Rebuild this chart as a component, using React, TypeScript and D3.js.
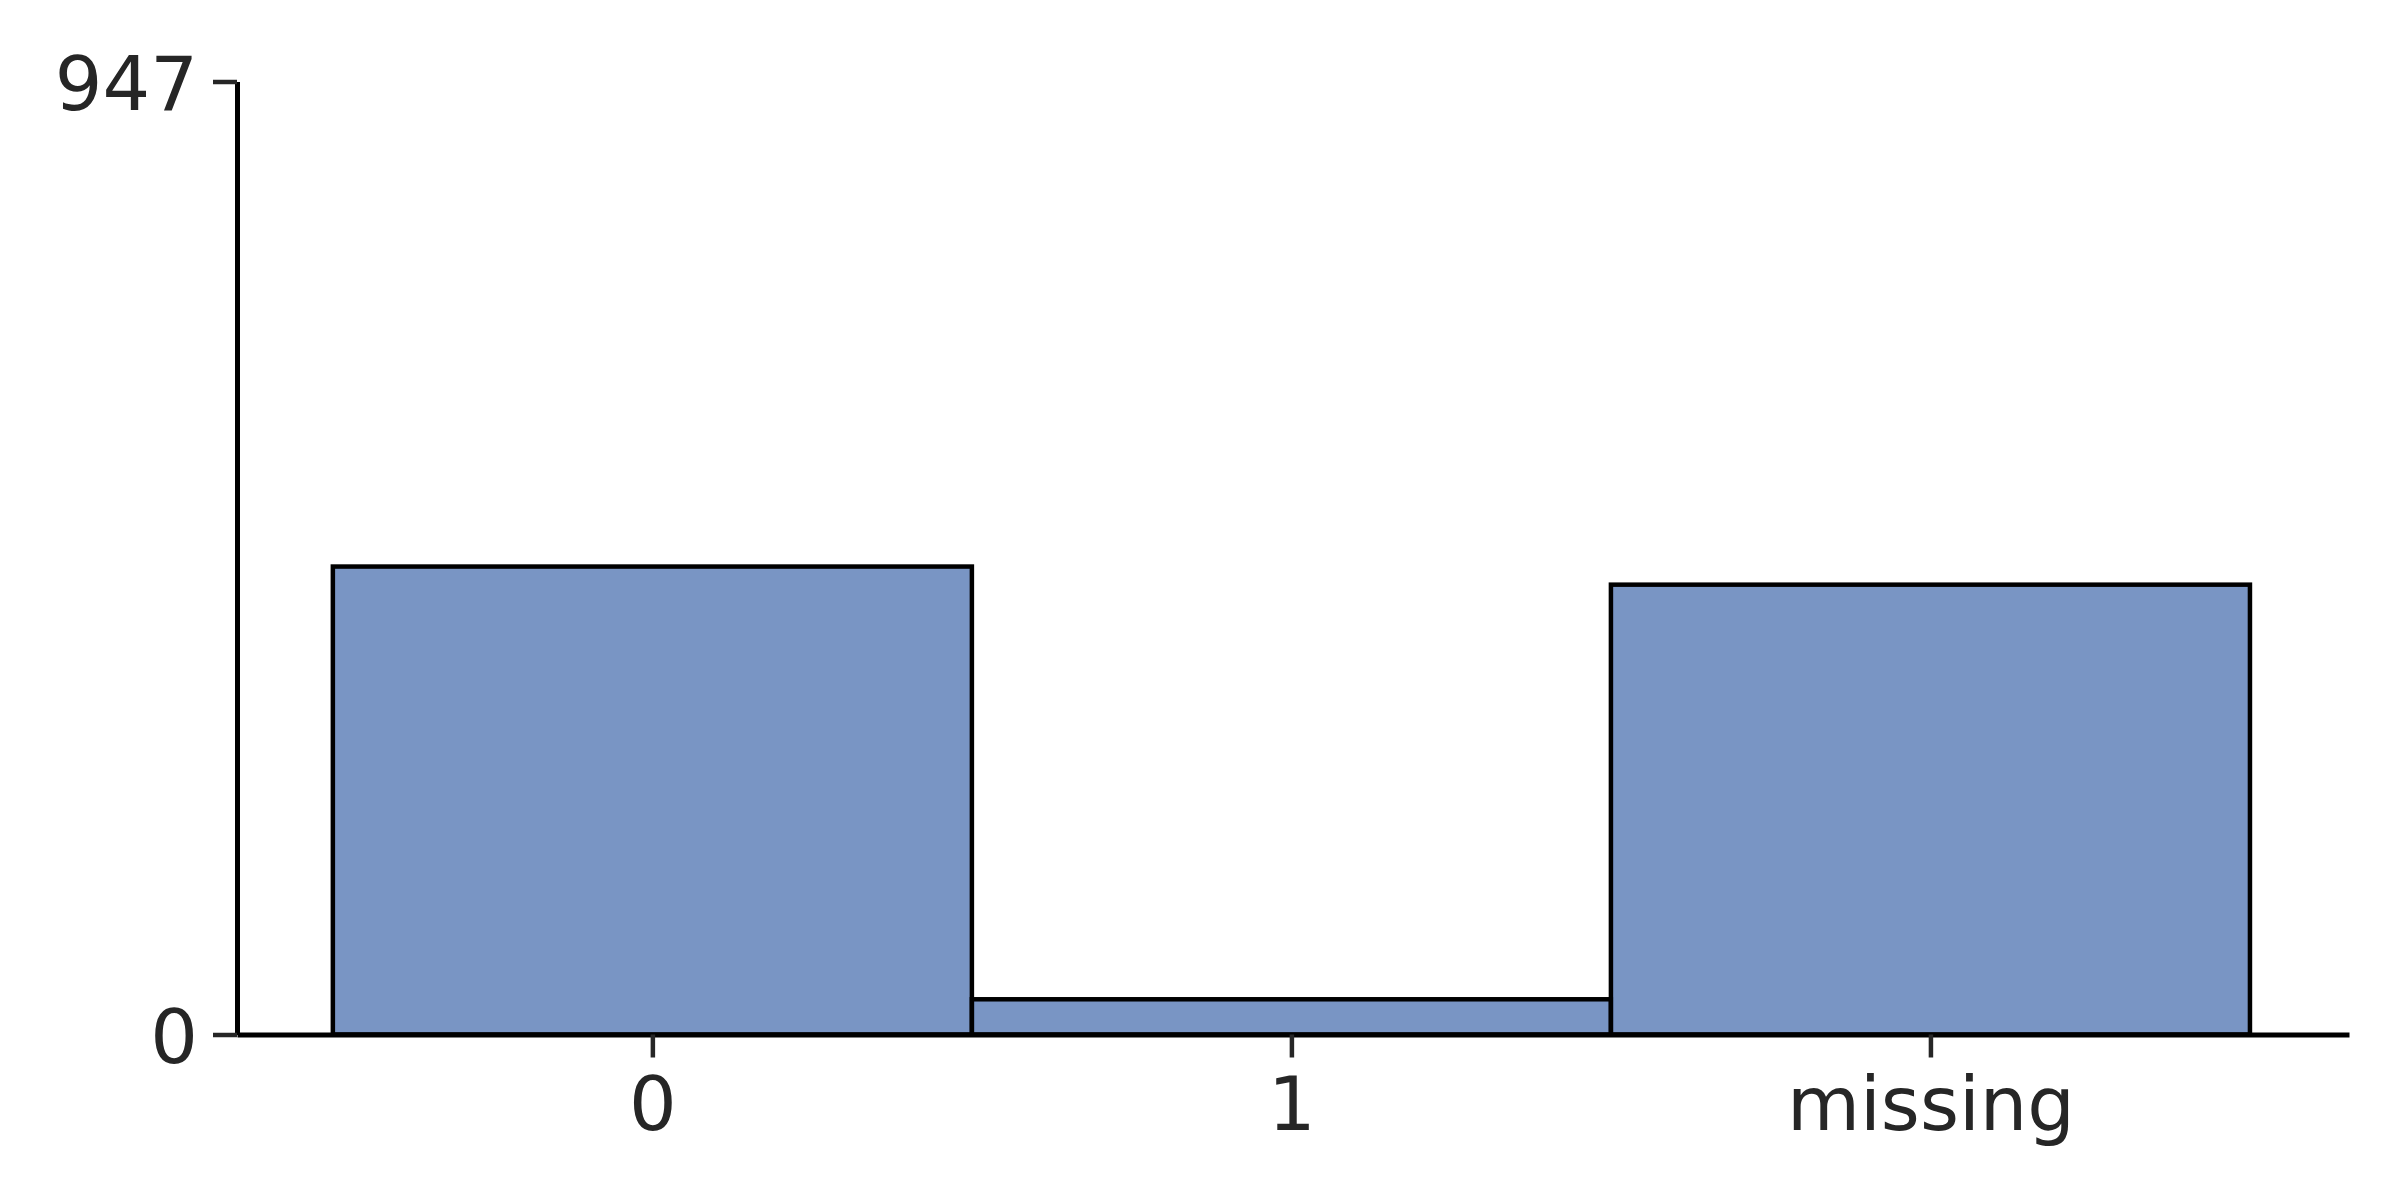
import React, { useEffect, useRef } from 'react';
import * as d3 from 'd3';

// counts per category (total = 947, which is the top y tick)
const categories = ['0', '1', 'missing'];
const counts = [465, 35, 447];
const yTickValues = [0, 947];

export default function App() {
  const svgRef = useRef<SVGSVGElement>(null);

  useEffect(() => {
    const width = 2400;
    const height = 1200;
    const left = 237;
    const right = 2349;
    const bottom = 1034.5;
    const top = 81.5;

    const svg = d3.select(svgRef.current);
    svg.selectAll('*').remove();
    svg.attr('width', width).attr('height', height);

    svg.append('rect')
      .attr('width', width)
      .attr('height', height)
      .attr('fill', '#ffffff');

    // bins sit at integer positions, with a small margin either side
    const n = categories.length;
    const xScale = d3.scaleLinear()
      .domain([-0.65, n - 0.5 + 0.155])
      .range([left, right]);

    const yScale = d3.scaleLinear()
      .domain([0, d3.max(yTickValues) as number])
      .range([bottom, top]);

    const bars = categories.map((c, i) => ({ c, i, v: counts[i] }));

    svg.append('g')
      .selectAll('rect')
      .data(bars)
      .join('rect')
      .attr('x', d => xScale(d.i - 0.5))
      .attr('width', d => xScale(d.i + 0.5) - xScale(d.i - 0.5))
      .attr('y', d => yScale(d.v))
      .attr('height', d => yScale(0) - yScale(d.v))
      .attr('fill', '#4c72b0')
      .attr('fill-opacity', 0.75)
      .attr('stroke', '#000000')
      .attr('stroke-width', 4.5);

    const font = '"DejaVu Sans", sans-serif';
    const fontSize = 75;

    // x axis
    const xAxis = d3.axisBottom(xScale)
      .tickValues(categories.map((_, i) => i))
      .tickFormat((d) => categories[d as number])
      .tickSize(23)
      .tickSizeOuter(0)
      .tickPadding(19);

    const gx = svg.append('g')
      .attr('transform', `translate(0,${bottom})`)
      .call(xAxis);
    gx.select('.domain')
      .attr('stroke', '#000000')
      .attr('stroke-width', 5);
    gx.selectAll('.tick line')
      .attr('stroke', '#262626')
      .attr('stroke-width', 4.5);
    gx.selectAll('.tick text')
      .attr('fill', '#262626')
      .attr('font-family', font)
      .attr('font-size', fontSize);

    // y axis
    const yAxis = d3.axisLeft(yScale)
      .tickValues(yTickValues)
      .tickFormat(d3.format('d'))
      .tickSize(24)
      .tickSizeOuter(0)
      .tickPadding(15);

    const gy = svg.append('g')
      .attr('transform', `translate(${left},0)`)
      .call(yAxis);
    gy.select('.domain')
      .attr('stroke', '#000000')
      .attr('stroke-width', 5);
    gy.selectAll('.tick line')
      .attr('stroke', '#262626')
      .attr('stroke-width', 4.5);
    gy.selectAll('.tick text')
      .attr('fill', '#262626')
      .attr('font-family', font)
      .attr('font-size', fontSize)
      .attr('dy', '0.37em');
  }, []);

  return (
    <svg
      ref={svgRef}
      style={{ position: 'absolute', left: 0, top: 0, display: 'block' }}
    ></svg>
  );
}
